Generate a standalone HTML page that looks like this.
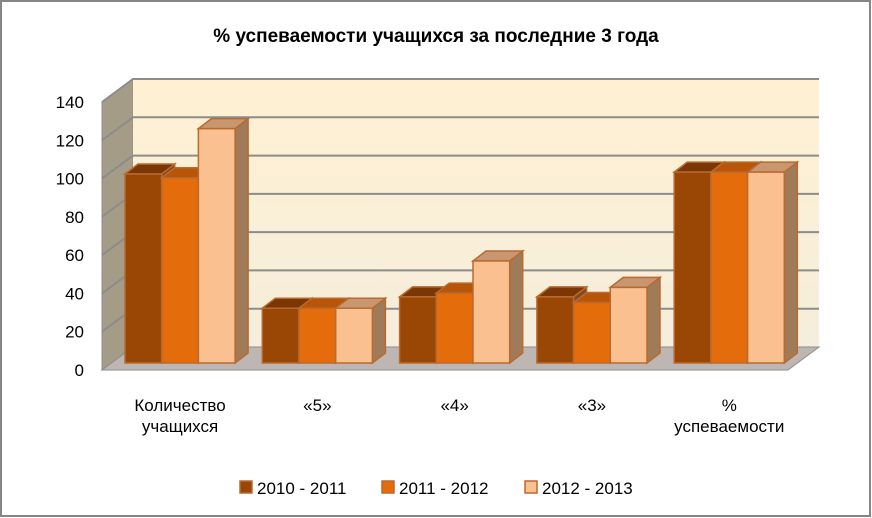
<!DOCTYPE html>
<html><head><meta charset="utf-8"><style>
body{margin:0;background:#fff;}
svg{display:block;font-family:"Liberation Sans",sans-serif;}
</style></head><body>
<svg id="chart" width="872" height="518" viewBox="0 0 872 518">
<defs>
<linearGradient id="wall" x1="0" y1="0" x2="0" y2="1"><stop offset="0" stop-color="#FFF0D2"/><stop offset="1" stop-color="#F5EEDC"/></linearGradient>
</defs>
<rect x="1" y="1" width="869" height="515" fill="#fff" stroke="#868686" stroke-width="2"/>
<text x="436" y="42" text-anchor="middle" font-size="19" font-weight="bold" fill="#000">% успеваемости учащихся за последние 3 года</text>
<g id="plot"></g>
<g id="legend"></g>
</svg>
<script>
const categories = [["Количество","учащихся"],["«5»"],["«4»"],["«3»"],["%","успеваемости"]];
const series = ["2010 - 2011","2011 - 2012","2012 - 2013"];
const s2010 = [100, 29, 35, 35, 101];
const s2011 = [98, 29, 37, 32, 101];
const s2012 = [124, 29, 54, 40, 101];
const ticks = [0,20,40,60,80,100,120,140];

const NS="http://www.w3.org/2000/svg";
const plot=document.getElementById('plot');
function mk(tag,attrs,parent){const e=document.createElementNS(NS,tag);for(const k in attrs)e.setAttribute(k,attrs[k]);(parent||plot).appendChild(e);return e;}
const FX0=102, FY0=370, DX=31, DY=-23, BX1=819, MAXV=140, FH=268;
function yFront(v){return FY0 - v/MAXV*FH;}
// walls
let side=mk('polygon',{points:`${FX0},${yFront(140)} ${FX0+DX},${yFront(140)+DY} ${FX0+DX},${FY0+DY} ${FX0},${FY0}`,fill:'#A59C87',stroke:'#8c8c8c'});


let back=mk('rect',{x:FX0+DX,y:yFront(140)+DY,width:BX1-FX0-DX,height:FH,fill:'url(#wall)'});


let floor=mk('polygon',{points:`${FX0},${FY0} ${FX0+DX},${FY0+DY} ${BX1},${FY0+DY} ${BX1-DX},${FY0}`,fill:'#BEB6B2',stroke:'#8c8c8c'});


ticks.forEach(t=>{
  const y=yFront(t);
  if(t>0){
    let g=mk('polyline',{points:`${FX0},${y} ${FX0+DX},${y+DY} ${BX1},${y+DY}`,fill:'none',stroke:'#8c8c8c','stroke-width':2});
    
    
  }
  let tl=mk('text',{x:84,y:y+6,'text-anchor':'end','font-size':17,fill:'#000'});
  tl.textContent=t;
  
  
});
const fills=['#9A4705','#E46C0A','#FAC090'];
const tops=['#7A3604','#B85508','#C89770'];
const sides=['#7C4A24','#A0622F','#A07B5A'];
const data=[s2010,s2011,s2012];
const groupW=137.3, gx0=125, bw=36.7, base=363, k=1.89, bdx=13, bdy=-10;
categories.forEach((cat,i)=>{
  const gx=gx0+i*groupW;
  for(let s=0;s<3;s++){
    const v=data[s][i], x=gx+s*bw, top=base-v*k;
    const g=mk('g',{});
    
    
    mk('polygon',{points:`${x+bw},${top} ${x+bw+bdx},${top+bdy} ${x+bw+bdx},${base+bdy} ${x+bw},${base}`,fill:sides[s],stroke:'#B86A30','stroke-width':1.5},g);
    mk('polygon',{points:`${x},${top} ${x+bdx},${top+bdy} ${x+bw+bdx},${top+bdy} ${x+bw},${top}`,fill:tops[s],stroke:'#B86A30','stroke-width':1.5},g);
    mk('rect',{x:x,y:top,width:bw,height:base-top,fill:fills[s],stroke:'#B86A30','stroke-width':1.5},g);
  }
  const cx=gx+bw*1.5;
  cat.forEach((line,j)=>{
    let t=mk('text',{x:cx,y:411+j*21,'text-anchor':'middle','font-size':17,fill:'#000'});
    t.textContent=line;
    
    
  });
});
const lg=document.getElementById('legend');
const lx=[240,382,525];
series.forEach((name,s)=>{
  const g=mk('g',{},lg);
  
  
  mk('rect',{x:lx[s],y:481,width:12,height:12,fill:fills[s],stroke:'#B86A30','stroke-width':1.5},g);
  const t=mk('text',{x:lx[s]+17,y:494,'font-size':17,fill:'#000'},g);
  t.textContent=name;
});
</script>
</body></html>
